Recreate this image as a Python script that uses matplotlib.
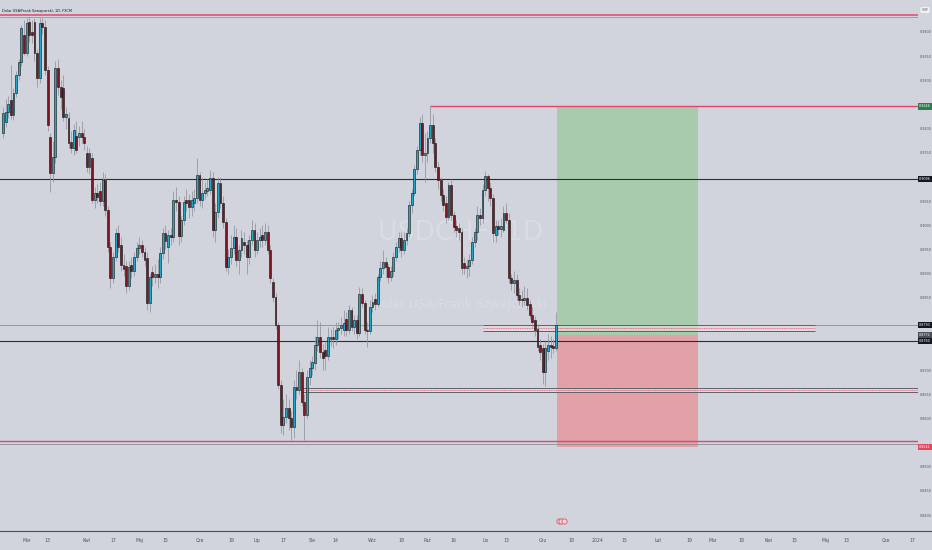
import numpy as np
import pandas as pd
import matplotlib
matplotlib.use('Agg')
import matplotlib.pyplot as plt
from matplotlib import font_manager
from matplotlib.lines import Line2D

# dzienne świece USDCHF (open, high, low, close)
feb = [(.9191, .9245, .9180, .9232), (.9214, .9262, .9203, .9234), (.9234, .9268, .9222, .9251),
       (.9259, .9332, .9220, .9228), (.9228, .9285, .9218, .9274), (.9274, .9320, .9265, .9311),
       (.9311, .9345, .9300, .9338), (.9338, .9415, .9330, .9408), (.9394, .9425, .9353, .9357)]
mar = [(.9357, .9430, .9350, .9419), (.9421, .9432, .9380, .9394), (.9400, .9425, .9377, .9394),
       (.9421, .9430, .9340, .9357), (.9357, .9365, .9286, .9305), (.9305, .9428, .9295, .9419),
       (.9419, .9428, .9395, .9410), (.9410, .9425, .9310, .9321), (.9321, .9330, .9195, .9207),
       (.9183, .9190, .9069, .9108), (.9108, .9175, .9090, .9141), (.9141, .9340, .9128, .9325),
       (.9325, .9345, .9270, .9286), (.9286, .9300, .9240, .9265), (.9284, .9311, .9215, .9224),
       (.9224, .9245, .9200, .9230), (.9222, .9235, .9160, .9170), (.9172, .9195, .9150, .9160),
       (.9160, .9210, .9145, .9197), (.9185, .9215, .9150, .9156), (.9183, .9205, .9165, .9191),
       (.9191, .9215, .9170, .9183), (.9183, .9200, .9155, .9170)]
apr = [(.9149, .9165, .9110, .9120), (.9120, .9160, .9105, .9149), (.9140, .9150, .9045, .9052),
       (.9052, .9080, .9035, .9067), (.9067, .9085, .9045, .9058), (.9070, .9090, .9040, .9050),
       (.9050, .9110, .9040, .9094), (.9094, .9105, .9020, .9031), (.9031, .9040, .8945, .8955),
       (.8955, .8965, .8870, .8891), (.8891, .8945, .8880, .8934), (.8934, .8995, .8925, .8984),
       (.8984, .9000, .8945, .8955), (.8960, .8975, .8905, .8918), (.8918, .8940, .8895, .8910),
       (.8915, .8925, .8860, .8874), (.8874, .8925, .8865, .8914), (.8918, .8935, .8890, .8905),
       (.8905, .8945, .8895, .8934), (.8934, .8965, .8925, .8953)]
may = [(.8953, .8975, .8940, .8958), (.8958, .8970, .8935, .8944), (.8944, .8955, .8915, .8928),
       (.8932, .8945, .8825, .8839), (.8839, .8900, .8820, .8893), (.8903, .8915, .8875, .8893),
       (.8893, .8920, .8880, .8900), (.8900, .8930, .8870, .8893), (.8893, .8955, .8880, .8942),
       (.8942, .8995, .8930, .8984), (.8984, .9000, .8950, .8968), (.8955, .8990, .8922, .8980),
       (.8980, .8995, .8960, .8975), (.8975, .9070, .8965, .9052), (.9052, .9080, .9030, .9048),
       (.9048, .9060, .8960, .8977), (.8977, .9020, .8965, .9011), (.9011, .9060, .9000, .9048),
       (.9052, .9075, .9030, .9045), (.9052, .9065, .9015, .9038), (.9038, .9070, .9020, .9052),
       (.9045, .9075, .9030, .9056), (.9056, .9140, .9045, .9104)]
jun = [(.9104, .9110, .9040, .9052), (.9052, .9100, .9035, .9067), (.9067, .9090, .9055, .9073),
       (.9070, .9095, .9060, .9078), (.9073, .9115, .9065, .9098), (.9098, .9110, .8975, .8990),
       (.8990, .9045, .8965, .9027), (.9027, .9100, .9015, .9088), (.9088, .9100, .9035, .9045),
       (.9045, .9060, .8995, .9007), (.9007, .9015, .8905, .8914), (.8914, .8950, .8900, .8934),
       (.8934, .8980, .8920, .8953), (.8953, .9000, .8940, .8975), (.8975, .8995, .8915, .8928),
       (.8928, .8960, .8900, .8949), (.8949, .8990, .8935, .8973), (.8966, .8985, .8940, .8959),
       (.8959, .8970, .8900, .8934), (.8934, .8980, .8920, .8969), (.8969, .9010, .8960, .8990),
       (.8990, .9005, .8935, .8949)]
jul = [(.8949, .8985, .8940, .8969), (.8969, .8995, .8955, .8976), (.8980, .9000, .8955, .8969),
       (.8969, .9005, .8960, .8986), (.8986, .9000, .8940, .8949), (.8949, .8960, .8880, .8891),
       (.8882, .8890, .8840, .8851), (.8851, .8860, .8785, .8793), (.8793, .8800, .8660, .8669),
       (.8669, .8680, .8570, .8586), (.8586, .8640, .8565, .8603), (.8603, .8650, .8590, .8622),
       (.8622, .8640, .8575, .8600), (.8600, .8615, .8555, .8582), (.8582, .8680, .8560, .8665),
       (.8665, .8700, .8640, .8659), (.8659, .8720, .8650, .8696), (.8696, .8705, .8625, .8634),
       (.8634, .8650, .8555, .8607), (.8607, .8700, .8600, .8686), (.8686, .8720, .8670, .8704)]
aug = [(.8704, .8730, .8690, .8717), (.8715, .8770, .8700, .8752), (.8752, .8804, .8740, .8769),
       (.8769, .8800, .8725, .8737), (.8737, .8755, .8700, .8725), (.8742, .8760, .8700, .8730),
       (.8730, .8790, .8720, .8769), (.8765, .8785, .8750, .8769), (.8769, .8790, .8745, .8765),
       (.8765, .8800, .8752, .8783), (.8783, .8800, .8765, .8788), (.8788, .8810, .8775, .8794),
       (.8783, .8824, .8770, .8798), (.8806, .8820, .8770, .8783), (.8783, .8835, .8775, .8824),
       (.8824, .8830, .8780, .8790), (.8790, .8815, .8775, .8804), (.8804, .8815, .8765, .8777),
       (.8777, .8872, .8770, .8858), (.8858, .8870, .8830, .8839), (.8839, .8845, .8775, .8783),
       (.8783, .8800, .8748, .8780), (.8780, .8845, .8775, .8831)]
sep = [(.8831, .8855, .8820, .8840), (.8847, .8860, .8825, .8837), (.8837, .8900, .8830, .8893),
       (.8893, .8925, .8885, .8911), (.8911, .8949, .8900, .8924), (.8924, .8935, .8890, .8914),
       (.8914, .8920, .8880, .8893), (.8893, .8915, .8885, .8905), (.8905, .8945, .8895, .8934),
       (.8934, .8965, .8925, .8955), (.8955, .8985, .8945, .8973), (.8973, .8985, .8934, .8949),
       (.8949, .8985, .8940, .8970), (.8970, .8995, .8960, .8984), (.8984, .9050, .8975, .9042),
       (.9042, .9075, .9025, .9067), (.9067, .9125, .9060, .9116), (.9116, .9165, .9105, .9156),
       (.9156, .9225, .9145, .9212), (.9212, .9230, .9130, .9145), (.9145, .9190, .9090, .9150)]
oct_ = [(.9150, .9195, .9130, .9181), (.9181, .9246, .9170, .9207), (.9207, .9230, .9150, .9170),
        (.9170, .9180, .9110, .9120), (.9120, .9130, .9075, .9094), (.9094, .9100, .9050, .9063),
        (.9063, .9075, .9030, .9042), (.9046, .9060, .9005, .9017), (.9017, .9090, .9010, .9083),
        (.9083, .9095, .9010, .9021), (.9021, .9030, .8985, .8996), (.8998, .9010, .8975, .8990),
        (.8995, .9005, .8970, .8986), (.8986, .8995, .8900, .8911), (.8922, .8935, .8900, .8911),
        (.8911, .8930, .8891, .8915), (.8915, .8940, .8895, .8928), (.8928, .8975, .8920, .8965),
        (.8965, .8995, .8955, .8986), (.8986, .9040, .8970, .9021), (.9021, .9035, .9000, .9015),
        (.9015, .9085, .9005, .9073)]
nov = [(.9073, .9112, .9060, .9102), (.9102, .9105, .9050, .9077), (.9077, .9090, .9040, .9056),
       (.9056, .9065, .8965, .8984), (.8980, .9010, .8965, .8998), (.8998, .9010, .8980, .8992),
       (.8992, .9015, .8975, .8998), (.8990, .9040, .8985, .9025), (.9025, .9045, .9005, .9011),
       (.9011, .9025, .8880, .8891), (.8891, .8900, .8865, .8880), (.8880, .8905, .8860, .8887),
       (.8887, .8900, .8845, .8855), (.8855, .8870, .8835, .8845), (.8848, .8865, .8830, .8845),
       (.8845, .8875, .8835, .8849), (.8849, .8870, .8825, .8835), (.8837, .8845, .8805, .8814),
       (.8814, .8830, .8790, .8800), (.8804, .8812, .8770, .8783), (.8785, .8795, .8740, .8748),
       (.8752, .8765, .8720, .8737)]
dec = [(.8745, .8755, .8672, .8696), (.8696, .8760, .8668, .8746), (.8740, .8775, .8720, .8752),
       (.8752, .8770, .8725, .8748), (.8750, .8765, .8735, .8746), (.8746, .8820, .8740, .8793)]

first_day = '2023-02-16'

# linie i strefy narysowane na wykresie
top_red, top_grey = 0.9435, 0.9431
oct_high, oct_high_date = 0.9246, '2023-10-03'
black_hi = 0.9096
black_lo = 0.8760
last_price = 0.8793
zone1 = (0.8782, 0.8793, '2023-10-31', '2024-04-25')
zone2 = (0.8654, 0.8662, '2023-07-26', None)
low_red, low_grey = 0.8553, 0.8547

# pozycja długa
entry, take_profit, stop_loss = 0.8772, 0.9246, 0.8541
pos_end_date = '2024-02-22'

event_dates = ['2023-12-11', '2023-12-12', '2023-12-13']

xtick_labels = ['Mar', '13', 'Kwi', '17', 'Maj', '15', 'Cze', '19', 'Lip', '17', 'Sie', '14',
                'Wrz', '18', 'Paź', '16', 'Lis', '13', 'Gru', '18', '2024', '15', 'Lut', '19',
                'Mar', '18', 'Kwi', '15', 'Maj', '13', 'Cze', '17']
xtick_dates = ['2023-03-01', '2023-03-13', '2023-04-03', '2023-04-17', '2023-05-01', '2023-05-15',
               '2023-06-01', '2023-06-19', '2023-07-03', '2023-07-17', '2023-08-01', '2023-08-14',
               '2023-09-01', '2023-09-18', '2023-10-02', '2023-10-16', '2023-11-01', '2023-11-13',
               '2023-12-01', '2023-12-18', '2024-01-01', '2024-01-15', '2024-02-01', '2024-02-19',
               '2024-03-01', '2024-03-18', '2024-04-01', '2024-04-15', '2024-05-01', '2024-05-13',
               '2024-06-03', '2024-06-17']

# kolory
bg = '#d1d4dc'
up_col = '#22a8c6'
down_col = '#7c1722'
wick_col = '#90939c'
red_line = '#e5446d'
dark_line = '#2a2e39'
text_col = '#50535e'

# czcionka wąska jeśli jest
names = {f.name for f in font_manager.fontManager.ttflist}
if 'Liberation Sans Narrow' in names:
    narrow, k = 'Liberation Sans Narrow', 1.0
else:
    narrow, k = 'DejaVu Sans', 0.8

days = pd.bdate_range(first_day, '2024-08-30')


def bar_of(d):
    return days.get_loc(pd.Timestamp(d))


ohlc = np.array(feb + mar + apr + may + jun + jul + aug + sep + oct_ + nov + dec)
o, h, l, c = ohlc.T
idx = np.arange(len(ohlc))
xmin, xmax = -1.15, 349.2
ymin, ymax = 0.83669, 0.946625

fig = plt.figure(figsize=(9.32, 5.5), dpi=100, facecolor=bg)
ax = fig.add_axes([0, 19 / 550, 918 / 932, 531 / 550])
ax.set_facecolor(bg)
ax.set_xlim(xmin, xmax)
ax.set_ylim(ymin, ymax)
for s in ax.spines.values():
    s.set_visible(False)

# znak wodny
ax.text(0.502, 0.561, 'USDCHF, 1D', transform=ax.transAxes, ha='center', va='center',
        fontsize=24 * k, color='#d9dce3', family=narrow, zorder=0)
ax.text(0.5, 0.426, 'Dolar USA/Frank Szwajcarski', transform=ax.transAxes, ha='center',
        va='center', fontsize=11 * k, color='#d9dce3', family=narrow, zorder=0)

# pozycja długa
p0 = len(ohlc) - 0.5
p1 = bar_of(pos_end_date) + 0.3
ax.fill_between([p0, p1], entry, take_profit, color='#a9cbad', lw=0, zorder=1)
ax.fill_between([p0, p1], stop_loss, entry, color='#e2a1a7', lw=0, zorder=1)

# linie poziome
ax.axhline(top_red, color=red_line, lw=1.1, zorder=4)
ax.axhline(top_grey, color='#9598a1', lw=0.6, zorder=4)
ax.hlines(oct_high, bar_of(oct_high_date), xmax, color=red_line, lw=1.0, zorder=4)
ax.axhline(black_hi, color=dark_line, lw=0.8, zorder=4)
ax.axhline(last_price, color='#8a8d96', lw=0.6, zorder=4)
ax.axhline(black_lo, color=dark_line, lw=0.8, zorder=4)
ax.axhline(low_red, color=red_line, lw=1.0, zorder=4)
ax.axhline(low_grey, color='#8a8d96', lw=0.6, zorder=4)

for lo, hi, d0, d1 in (zone1, zone2):
    x0 = bar_of(d0)
    x1 = bar_of(d1) if d1 else xmax
    ax.fill_between([x0, x1], lo, hi, color='#e9dde0', alpha=0.6, lw=0, zorder=4)
    ax.hlines([lo, hi], x0, x1, color='#5d606b', lw=0.7, zorder=4)
    ax.hlines((lo + hi) / 2, x0, x1, color='#e0506a', lw=0.5, linestyles=(0, (1.5, 1)), zorder=4)

# świece
up = c >= o
body = np.maximum(np.abs(c - o), 0.00006)
ax.vlines(idx, l, h, color=wick_col, lw=0.55, zorder=5)
ax.bar(idx[up], body[up], bottom=o[up], width=0.72, color=up_col, edgecolor='#111111',
       linewidth=0.4, zorder=6)
ax.bar(idx[~up], body[~up], bottom=c[~up], width=0.72, color=down_col, edgecolor='#111111',
       linewidth=0.4, zorder=6)

# wydarzenia
ev = [bar_of(d) for d in event_dates]
ax.scatter(ev, [0.8388] * len(ev), s=14, marker='o', facecolor='#f6d6dc',
           edgecolor='#e0536b', linewidth=0.6, zorder=7)

# oś czasu
ax.set_xticks([bar_of(d) for d in xtick_dates])
ax.set_xticklabels(xtick_labels)
ax.tick_params(axis='x', length=0, pad=5, labelsize=4.2 * k, labelcolor=text_col)
for t in ax.get_xticklabels():
    t.set_family(narrow)

# oś cen
tag_prices = [oct_high, black_hi, last_price, entry, black_lo, stop_loss]
yt = [round(v, 4) for v in np.arange(0.84, 0.9401, 0.005)
      if min(abs(v - p) for p in tag_prices) > 0.0012]
ax.yaxis.tick_right()
ax.set_yticks(yt)
ax.set_yticklabels(['%.4f' % v for v in yt])
ax.tick_params(axis='y', length=0, pad=1.2, labelsize=3.1 * k, labelcolor=text_col)
for t in ax.get_yticklabels():
    t.set_family(narrow)

tags = [(black_lo, '%.4f' % black_lo, '#131722', 'white'),
        (entry, '%.4f' % entry, '#4a4e59', 'white'),
        (last_price, '%.4f' % last_price, '#131722', 'white'),
        (oct_high, '%.4f' % oct_high, '#2e7d4f', 'white'),
        (black_hi, '%.4f' % black_hi, '#131722', 'white'),
        (stop_loss, '%.4f' % stop_loss, '#e0485f', 'white')]
for i, (p, s, fc, tc) in enumerate(tags):
    ax.text(1.0012, p, s, transform=ax.get_yaxis_transform(), ha='left', va='center',
            fontsize=3.0 * k, color=tc, family=narrow, clip_on=False, zorder=10 + i,
            bbox=dict(boxstyle='square,pad=0.35', fc=fc, ec='none'))

# tytuł i drobne elementy
fig.text(2 / 932, 1 - 11 / 550, 'Dolar USA/Frank Szwajcarski, 1D, FXCM', fontsize=3.2 * k,
         color='#131722', family=narrow, va='center')
fig.text(925 / 932, 1 - 10 / 550, 'CHF', fontsize=3.2 * k, color='#50535e', family=narrow,
         ha='center', va='center',
         bbox=dict(boxstyle='round,pad=0.4', fc='#f0f1f4', ec='#c4c7cf', lw=0.3))
fig.add_artist(Line2D([0, 1], [19 / 550, 19 / 550], transform=fig.transFigure,
                      color='#4c4f5a', lw=0.8))

fig.savefig('out.png', dpi=100, facecolor=bg)
